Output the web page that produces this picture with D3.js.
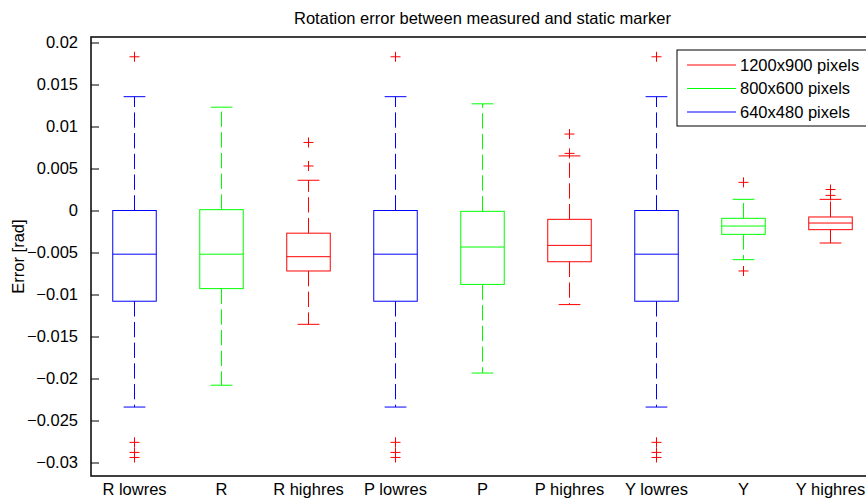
<!DOCTYPE html>
<html>
<head>
<meta charset="utf-8">
<script src="https://cdn.jsdelivr.net/npm/d3@7"></script>
<style>
  html, body { margin: 0; padding: 0; background: #fff; }
  svg { display: block; font-family: "Liberation Sans", Arial, Helvetica, sans-serif; }
</style>
</head>
<body>
<svg id="chart" width="866" height="499"></svg>
<script>
// Box statistics per group (radians)
const categories = ["R lowres", "R", "R highres", "P lowres", "P", "P highres", "Y lowres", "Y", "Y highres"];
const resolution = [2, 1, 0, 2, 1, 0, 2, 1, 0]; // index into series
const seriesNames = ["1200x900 pixels", "800x600 pixels", "640x480 pixels"];
const seriesColors = ["#ff0000", "#00ff00", "#0000ff"];

const upperQuartile = [0.0000, 0.0001, -0.0027, 0.0000, -0.0001, -0.00105, 0.0000, -0.00093, -0.00077];
const median        = [-0.0052, -0.0052, -0.0055, -0.0052, -0.00435, -0.00415, -0.0052, -0.00185, -0.00149];
const lowerQuartile = [-0.0108, -0.0093, -0.0072, -0.0108, -0.0088, -0.0061, -0.0108, -0.00284, -0.00228];
const whiskerHigh   = [0.01355, 0.0123, 0.0036, 0.01355, 0.0127, 0.0065, 0.01355, 0.00133, 0.00133];
const whiskerLow    = [-0.0234, -0.0208, -0.01355, -0.0234, -0.01935, -0.0112, -0.0234, -0.00585, -0.00387];
const outliers = [
  [0.0183, -0.0276, -0.0288, -0.0294],
  [],
  [0.0081, 0.0053],
  [0.0183, -0.0276, -0.0288, -0.0294],
  [],
  [0.0091, 0.0068],
  [0.0183, -0.0276, -0.0288, -0.0294],
  [0.00335, -0.0072],
  [0.0025, 0.0018]
];
const yTicks = [0.02, 0.015, 0.01, 0.005, 0, -0.005, -0.01, -0.015, -0.02, -0.025, -0.03];

const titleText = "Rotation error between measured and static marker";
const yLabel = "Error [rad]";

const svg = d3.select("#chart");
const plotLeft = 91, plotTop = 37, plotBottom = 476, plotRight = 874;
const fontSize = 16.5;

const x = d3.scaleLinear().domain([0.5, categories.length + 0.5]).range([plotLeft, plotRight]);
const y = d3.scaleLinear().domain([-0.031607, 0.020655]).range([plotBottom, plotTop]);

const boxHalf = x(1.25) - x(1);      // half of box width (0.5 units)
const capHalf = boxHalf / 2;

// Plot frame
svg.append("rect")
  .attr("x", plotLeft).attr("y", plotTop)
  .attr("width", plotRight - plotLeft).attr("height", plotBottom - plotTop)
  .attr("fill", "none").attr("stroke", "#111").attr("stroke-width", 1.6);

// Y axis with inward ticks
const yAxis = d3.axisLeft(y)
  .tickValues(yTicks)
  .tickSize(-8)
  .tickPadding(13)
  .tickFormat(d => d === 0 ? "0" : String(+d.toFixed(3)).replace("-", "\u2212"));
const ga = svg.append("g").attr("transform", `translate(${plotLeft},0)`).call(yAxis);
ga.select(".domain").remove();
ga.selectAll(".tick line").attr("stroke", "#000").attr("stroke-width", 1);
ga.selectAll(".tick text")
  .attr("font-size", fontSize)
  .attr("font-family", "Liberation Sans, Arial, sans-serif")
  .attr("fill", "#000");

// Category labels
svg.append("g").selectAll("text").data(categories).join("text")
  .attr("x", (d, i) => x(i + 1))
  .attr("y", 495)
  .attr("text-anchor", "middle")
  .attr("font-size", fontSize)
  .attr("fill", "#000")
  .text(d => d);

// Boxes
const groups = svg.append("g").selectAll("g").data(categories).join("g")
  .attr("stroke", (d, i) => seriesColors[resolution[i]])
  .attr("fill", "none")
  .attr("stroke-width", 1);

groups.each(function(d, i) {
  const g = d3.select(this);
  const cx = x(i + 1);
  // whiskers (dashed, drawn outward from the box)
  g.append("line")
    .attr("x1", cx).attr("x2", cx)
    .attr("y1", y(upperQuartile[i])).attr("y2", y(whiskerHigh[i]))
    .attr("stroke-dasharray", "15.3,5.4");
  g.append("line")
    .attr("x1", cx).attr("x2", cx)
    .attr("y1", y(lowerQuartile[i])).attr("y2", y(whiskerLow[i]))
    .attr("stroke-dasharray", "15.3,5.4");
  // caps
  [whiskerHigh[i], whiskerLow[i]].forEach(v => {
    g.append("line")
      .attr("x1", cx - capHalf).attr("x2", cx + capHalf)
      .attr("y1", y(v)).attr("y2", y(v));
  });
  // box
  g.append("rect")
    .attr("x", cx - boxHalf).attr("width", 2 * boxHalf)
    .attr("y", y(upperQuartile[i]))
    .attr("height", y(lowerQuartile[i]) - y(upperQuartile[i]));
  // median
  g.append("line")
    .attr("x1", cx - boxHalf).attr("x2", cx + boxHalf)
    .attr("y1", y(median[i])).attr("y2", y(median[i]));
  // outliers
  outliers[i].forEach(v => {
    const py = y(v);
    g.append("path")
      .attr("d", `M${cx - 5},${py}H${cx + 5}M${cx},${py - 5}V${py + 5}`)
      .attr("stroke", "#ff0000");
  });
});

// Title
svg.append("text")
  .attr("x", (plotLeft + plotRight) / 2)
  .attr("y", 24)
  .attr("text-anchor", "middle")
  .attr("font-size", fontSize)
  .attr("fill", "#000")
  .text(titleText);

// Y label
svg.append("text")
  .attr("transform", `translate(24,${(plotTop + plotBottom) / 2}) rotate(-90)`)
  .attr("text-anchor", "middle")
  .attr("font-size", fontSize)
  .attr("fill", "#000")
  .text(yLabel);

// Legend
const legend = svg.append("g").attr("transform", "translate(677,50)");
legend.append("rect")
  .attr("x", 0).attr("y", 0).attr("width", 200).attr("height", 76)
  .attr("fill", "#fff").attr("stroke", "#000").attr("stroke-width", 1);
const rows = legend.selectAll("g").data(seriesNames).join("g")
  .attr("transform", (d, i) => `translate(0,${15 + i * 23.5})`);
rows.append("line")
  .attr("x1", 10).attr("x2", 59).attr("y1", 0).attr("y2", 0)
  .attr("stroke", (d, i) => seriesColors[i]).attr("stroke-width", 1);
rows.append("text")
  .attr("x", 63).attr("y", 0).attr("dy", "0.35em")
  .attr("font-size", fontSize)
  .attr("fill", "#000")
  .text(d => d);
</script>
</body>
</html>
